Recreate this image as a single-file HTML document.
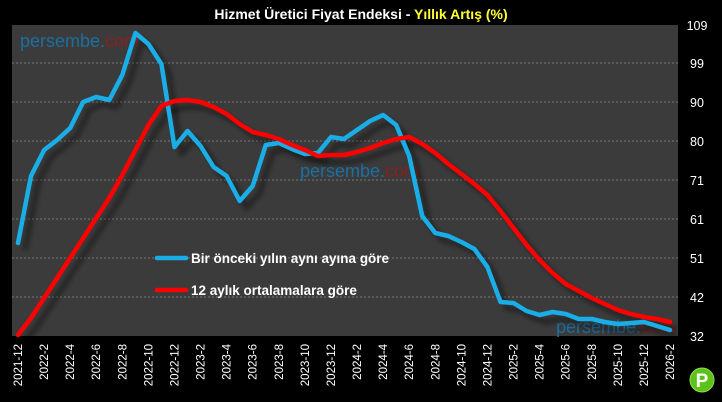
<!DOCTYPE html>
<html><head><meta charset="utf-8"><style>
html,body{margin:0;padding:0;background:#000;}
svg{display:block;font-family:"Liberation Sans",sans-serif;}
</style></head><body>
<svg width="722" height="402" viewBox="0 0 722 402" xmlns="http://www.w3.org/2000/svg">
<defs><filter id="bl" x="-10%" y="-10%" width="120%" height="120%"><feGaussianBlur stdDeviation="2.5"/></filter></defs>
<rect width="722" height="402" fill="#000"/>
<rect x="12" y="25" width="666" height="311" fill="#3b3b3b"/>
<g stroke="#777" stroke-width="1" stroke-dasharray="2,2">
<line x1="12" x2="678" y1="63" y2="63"/><line x1="12" x2="678" y1="102" y2="102"/>
<line x1="12" x2="678" y1="141" y2="141"/><line x1="12" x2="678" y1="180" y2="180"/>
<line x1="12" x2="678" y1="219" y2="219"/><line x1="12" x2="678" y1="258" y2="258"/>
<line x1="12" x2="678" y1="297" y2="297"/>
</g>
<g font-size="18" font-family="Liberation Sans,sans-serif">
<text x="20" y="47" fill="#1d6fa0">persembe.<tspan fill="#8a2020">com</tspan></text>
<text x="300" y="177" fill="#1d6fa0">persembe.<tspan fill="#8a2020">com</tspan></text>
<text x="556" y="333" fill="#1d6fa0">persembe.<tspan fill="#8a2020">com</tspan></text>
</g>
<g id="sh" fill="none" stroke-width="6" stroke-linejoin="round" filter="url(#bl)"></g>
<g id="lines" fill="none" stroke-width="4.5" stroke-linejoin="round" stroke-linecap="round"></g>
<text x="361" y="19" text-anchor="middle" fill="#fff" font-size="14" font-weight="bold">Hizmet Üretici Fiyat Endeksi - <tspan fill="#ffff33">Yıllık Artış (%)</tspan></text>
<g fill="#fff" font-size="12.5" text-anchor="middle">
<text x="697" y="30">109</text><text x="697" y="68">99</text><text x="697" y="107">90</text>
<text x="697" y="146">80</text><text x="697" y="185">71</text><text x="697" y="224">61</text>
<text x="697" y="263">51</text><text x="697" y="302">42</text><text x="697" y="341">32</text>
</g>
<line x1="157" x2="186" y1="258" y2="258" stroke="#1aaee8" stroke-width="4.5" stroke-linecap="round"/>
<line x1="157" x2="186" y1="290" y2="290" stroke="#ff0000" stroke-width="4.5" stroke-linecap="round"/>
<g fill="#fff" font-size="13.5" font-weight="bold">
<text x="191" y="263">Bir önceki yılın aynı ayına göre</text>
<text x="191" y="295">12 aylık ortalamalara göre</text>
</g>
<g id="xl" fill="#fff" font-size="11.5"></g>
<circle cx="702" cy="380" r="12" fill="#5cc21a"/>
<circle cx="702" cy="380" r="12" fill="none" stroke="#8fe04a" stroke-width="1"/>
<text x="702" y="387" text-anchor="middle" fill="#fff" font-size="19" font-weight="bold">P</text>
<script>
var b=[243,176,150,140,128,102,97,100,75,33,44,64,147,131,146,167,176,201,186,145,143,149,154,153,137,139,130,121,115,125,156,216,233,236,242,249,267,302,303,311,315,312,314,319,319,322,324,323,322,326,330];
var r=[335,318,298,278,258,238,218,198,175,150,125,106,101,100,102,107,114,124,132,135,139,145,150,156,155,155,152,148,143,139,137,144,153,164,174,184,195,211,228,245,260,273,284,291,298,304,310,314,317,319,322];
function pts(a,dx,dy){return a.map(function(v,i){return (18+i*13.04+dx).toFixed(1)+","+(v+dy)}).join(" ");}
var ns="http://www.w3.org/2000/svg";
function pl(g,a,c,dx,dy){var p=document.createElementNS(ns,"polyline");p.setAttribute("points",pts(a,dx,dy));p.setAttribute("stroke",c);document.getElementById(g).appendChild(p);}
pl("sh",b,"rgba(0,0,0,0.35)",7,7);pl("sh",r,"rgba(0,0,0,0.35)",7,7);
pl("lines",b,"#1aaee8",0,0);pl("lines",r,"#ff0000",0,0);
var xl=document.getElementById("xl");
for(var i=0;i<51;i+=2){var y=2021+Math.floor((i+11)/12),m=(i+11)%12+1;
var t=document.createElementNS(ns,"text");var x=18+i*13.04+4;
t.setAttribute("transform","translate("+x.toFixed(1)+",344) rotate(-90)");t.setAttribute("text-anchor","end");t.textContent=y+"-"+m;xl.appendChild(t);}
</script>
</svg>
</body></html>
